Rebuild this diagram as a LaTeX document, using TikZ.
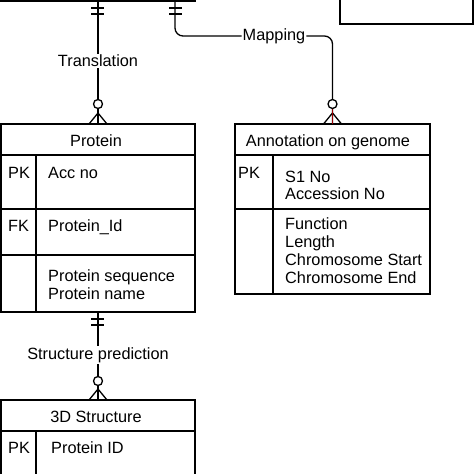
\documentclass[tikz,border=0pt]{standalone}
\usepackage{fontspec}
\setmainfont{Liberation Sans}
\usetikzlibrary{calc}

\tikzset{
  entity/.style={draw, line width=1.3pt, inner sep=0pt, outer sep=0pt, anchor=north west},
  rel/.style={line width=1.3pt},
  entitytitle/.style={anchor=base, inner sep=0pt, font=\fontsize{16.3}{18}\selectfont},
  field/.style={anchor=base west, inner sep=0pt, font=\fontsize{16.3}{18}\selectfont},
  rellabel/.style={fill=white, inner sep=1.5pt, font=\fontsize{16.3}{18}\selectfont}
}

\begin{document}
\begin{tikzpicture}[x=1pt, y=-1pt]

    \useasboundingbox (0,0) rectangle (474,474);
    \clip (0,0) rectangle (474,474);

    % Boxes cut by the top edge
    \node[entity, anchor=south west, minimum width=194pt, minimum height=80pt] (gene) at (1,1) {};
    \draw[rel] (37,1) -- (37,-20);
    \node[entity, anchor=south west, minimum width=133pt, minimum height=60pt] (other) at (340,24) {};

    % Protein
    \node[entity, minimum width=194pt, minimum height=188pt] (protein) at (1,124) {};
    \draw[rel] (1,155) -- (195,155);
    \draw[rel] (1,209) -- (195,209);
    \draw[rel] (1,255) -- (195,255);
    \draw[rel] (36,155) -- (36,312);
    \node[entitytitle] (proteintitle) at (96,146) {Protein};
    \node[field] (proteinpk) at (8,178) {PK};
    \node[field] (accno) at (48,178) {Acc no};
    \node[field] (proteinfk) at (8,231) {FK};
    \node[field] (proteinid) at (48,231) {Protein\_Id};
    \node[field] (proteinseq) at (48,281) {Protein sequence};
    \node[field] (proteinname) at (48,299) {Protein name};

    % Annotation on genome
    \node[entity, minimum width=195pt, minimum height=170pt] (annot) at (235,124) {};
    \draw[rel] (235,155) -- (430,155);
    \draw[rel] (235,209) -- (430,209);
    \draw[rel] (273,155) -- (273,294);
    \node[entitytitle] (annottitle) at (328,146) {Annotation on genome};
    \node[field] (annotpk) at (238,178) {PK};
    \node[field] (slno) at (285,182) {S1 No};
    \node[field] (accessionno) at (285,199) {Accession No};
    \node[field] (function) at (285,229) {Function};
    \node[field] (length) at (285,247) {Length};
    \node[field] (chromstart) at (285,265) {Chromosome Start};
    \node[field] (chromend) at (285,283) {Chromosome End};

    % 3D Structure (cut by the bottom edge)
    \node[entity, minimum width=194pt, minimum height=130pt] (struct) at (1,400) {};
    \draw[rel] (1,431) -- (195,431);
    \draw[rel] (36,431) -- (36,530);
    \node[entitytitle] (structtitle) at (96,422) {3D Structure};
    \node[field] (structpk) at (8,453) {PK};
    \node[field] (structid) at (51,453) {Protein ID};

    % Translation: one gene -- many proteins
    \draw[rel] (gene.south -| protein.north) -- (protein.north);
    \node[rellabel] (translation) at (98,61) {Translation};
    \draw[rel] (91,8) -- (104,8);
    \draw[rel] (91,14) -- (104,14);
    \draw[rel] (89,124) -- (98,113) -- (107,124);
    \draw[rel, fill=white] (98,104) circle[radius=4.5];

    % Mapping: one gene -- many annotations
    \coordinate (mapstart) at (175,1);
    \node[rellabel, inner sep=1pt] (mapping) at (274,36) {Mapping};
    \draw[rel, rounded corners=8pt] (mapstart) |- (mapping.west);
    \draw[rel, rounded corners=8pt] (mapping.east) -| (annot.north);
    \draw[rel] (169,8) -- (182,8);
    \draw[rel] (169,14) -- (182,14);
    \draw[rel] (323.5,124) -- (332.5,113) -- (341.5,124);
    \draw[red!60!black, line width=0.7pt] (332.5,109) -- (annot.north);
    \draw[rel, fill=white] (332.5,104) circle[radius=4.5];

    % Structure prediction: one protein -- many structures
    \draw[rel] (protein.south) -- (struct.north);
    \node[rellabel] (structpred) at (98,355) {Structure prediction};
    \draw[rel] (91,319) -- (104,319);
    \draw[rel] (91,325) -- (104,325);
    \draw[rel] (89,400) -- (98,389) -- (107,400);
    \draw[rel, fill=white] (98,381) circle[radius=4.5];

\end{tikzpicture}
\end{document}
